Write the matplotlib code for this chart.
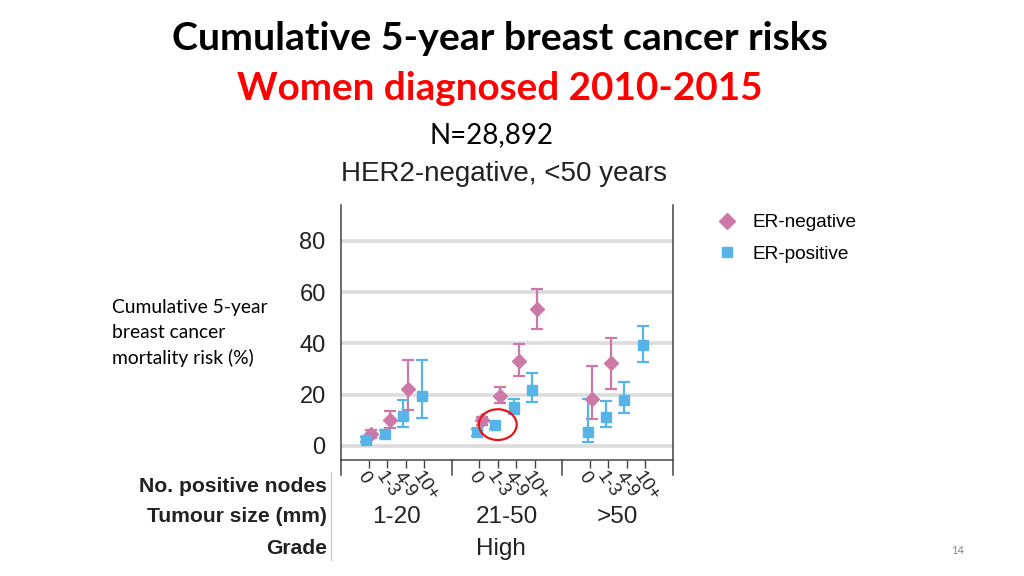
import numpy as np
import matplotlib
matplotlib.use("Agg")
import matplotlib.pyplot as plt
from matplotlib.patches import Ellipse
from matplotlib.lines import Line2D

# data (risk %, lower and upper CI)
node_labels = ["0", "1-3", "4-9", "10+"]
size_labels = ["1-20", "21-50", ">50"]
grade_label = "High"

# ER-negative, per size group, per node group (nan = not shown)
ern_val = [[4.5, 10.1, 22.1, np.nan], [10.1, 19.6, 33.1, 53.4], [18.4, 32.2, np.nan, np.nan]]
ern_lo = [[3.2, 7.1, 13.9, np.nan], [8.2, 16.6, 27.4, 45.8], [10.6, 22.2, np.nan, np.nan]]
ern_hi = [[6.2, 13.8, 33.4, np.nan], [11.4, 22.9, 39.7, 61.4], [31.0, 42.1, np.nan, np.nan]]

# ER-positive
erp_val = [[2.3, 4.5, 11.7, 19.4], [5.3, 8.1, 15.2, 21.8], [5.5, 11.4, 17.9, 39.4]]
erp_lo = [[1.4, 3.0, 7.3, 11.0], [3.8, 6.6, 12.3, 17.0], [1.7, 7.5, 12.7, 32.9]]
erp_hi = [[3.4, 6.1, 18.1, 33.4], [6.5, 9.5, 18.4, 28.3], [18.3, 17.7, 24.8, 46.8]]

pink = "#cc79a7"
blue = "#56b4e9"

W, H = 1024, 576
fig = plt.figure(figsize=(W / 100, H / 100), dpi=100)

def px(x, y):
    return x / W, 1 - y / H

# slide text
calibri = ["Lato", "DejaVu Sans"]
arial = ["Liberation Sans", "DejaVu Sans"]
fig.text(*px(500, 38), "Cumulative 5-year breast cancer risks", ha="center", va="center",
         fontsize=28.3, fontweight="bold", family=calibri)
fig.text(*px(500, 89), "Women diagnosed 2010-2015", ha="center", va="center",
         fontsize=27.8, fontweight="bold", color="#ff0000", family=calibri)
fig.text(*px(492, 135), "N=28,892", ha="center", va="center", fontsize=20, family=calibri)
fig.text(*px(504, 174), "HER2-negative, <50 years", ha="center", va="center",
         fontsize=20, family=arial, color="#222222")
fig.text(*px(112, 333), "Cumulative 5-year\nbreast cancer\nmortality risk (%)", ha="left",
         va="center", fontsize=13.9, family=calibri, linespacing=1.55)
fig.text(*px(958, 550), "14", ha="center", va="center", fontsize=8, color="#8c8c8c", family=calibri)

# plot area
left, right, top, bottom = 341, 673, 205, 460
ax = fig.add_axes([left / W, 1 - bottom / H, (right - left) / W, (bottom - top) / H])
ax.set_xlim(-1.5, 16.5)
ax.set_ylim(-5.5, 94)

for g in range(3):
    base = g * 6
    xs = np.arange(4) + base
    v = np.array(ern_val[g]); lo = np.array(ern_lo[g]); hi = np.array(ern_hi[g])
    ax.errorbar(xs + 0.13, v, yerr=[v - lo, hi - v], fmt="D", color=pink, ms=7.5,
                elinewidth=1.6, capsize=4, capthick=1.6, zorder=3)
    v = np.array(erp_val[g]); lo = np.array(erp_lo[g]); hi = np.array(erp_hi[g])
    ax.errorbar(xs - 0.13, v, yerr=[v - lo, hi - v], fmt="s", color=blue, ms=7,
                elinewidth=1.6, capsize=4, capthick=1.6, zorder=3)

# highlight circle
ax.add_patch(Ellipse((7.0, 8.3), 2.05, 12, fill=False, edgecolor="#e8141c", lw=1.6, zorder=4))

ax.set_yticks([0, 20, 40, 60, 80])
ax.set_yticklabels(["0", "20", "40", "60", "80"], fontsize=17, family=arial, color="#222222")
ax.yaxis.grid(True, color="#dcdcdc", lw=2.6)
ax.set_axisbelow(True)
ax.tick_params(axis="y", length=0, pad=11)
ax.spines["top"].set_visible(False)
for s in ["left", "right", "bottom"]:
    ax.spines[s].set_color("#444444")
    ax.spines[s].set_linewidth(1.1)

node_pos = [g * 6 + i for g in range(3) for i in range(4)]
ax.set_xticks(node_pos)
ax.set_xticklabels([])
ax.tick_params(axis="x", length=6, width=1, color="#444444")
sep_pos = [-1.5, 4.5, 10.5, 16.5]
for s in sep_pos:
    ax.plot([s, s], [0, -0.06], transform=ax.get_xaxis_transform(), color="#444444",
            lw=1.1, clip_on=False)

trans = ax.get_xaxis_transform()
for g in range(3):
    for i, lab in enumerate(node_labels):
        ax.text(g * 6 + i - 0.05, -0.035, lab, transform=trans, rotation=-55, ha="left",
                va="top", fontsize=13.5, family=arial, rotation_mode="anchor", color="#222222")
    fig.text((left + (g * 6 + 1.5 + 1.5) / 18 * (right - left)) / W, 1 - 517 / H,
             size_labels[g], ha="center", va="center", fontsize=17.5, family=arial, color="#222222")
fig.text(*px(501, 549), grade_label, ha="center", va="center", fontsize=17.5, family=arial, color="#222222")

for y, lab in [(486, "No. positive nodes"), (517, "Tumour size (mm)"), (549, "Grade")]:
    fig.text(*px(327, y), lab, ha="right", va="center", fontsize=15.2, fontweight="bold",
             family=arial, color="#222222")
fig.add_artist(Line2D([331 / W, 331 / W], [1 - 472 / H, 1 - 560 / H], color="#cccccc", lw=1))

handles = [Line2D([], [], marker="D", ls="none", color=pink, ms=8.5),
           Line2D([], [], marker="s", ls="none", color=blue, ms=7.5)]
fig.legend(handles, ["ER-negative", "ER-positive"], loc="upper left",
           bbox_to_anchor=(696 / W, 1 - 197 / H), frameon=False,
           prop={"family": arial, "size": 13.7}, handletextpad=0.55, labelspacing=0.75,
           handlelength=1.5)

fig.savefig("out.png", dpi=100)
